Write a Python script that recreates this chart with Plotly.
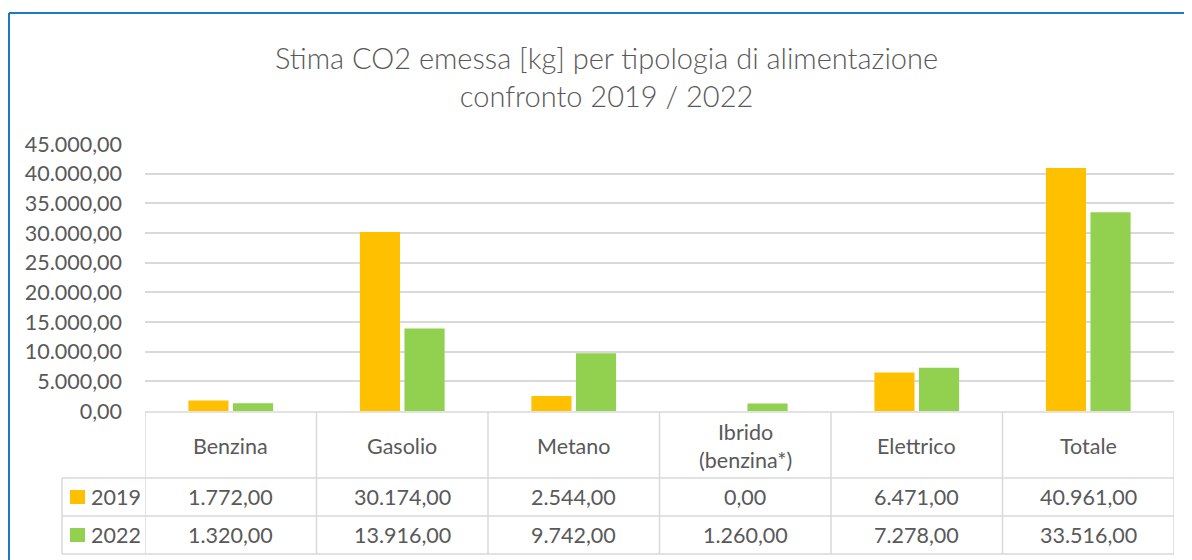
import plotly.graph_objects as go

categories = ["Benzina", "Gasolio", "Metano", "Ibrido<br>(benzina*)", "Elettrico", "Totale"]
series_names = ["2019", "2022"]
values_2019 = [1772.00, 30174.00, 2544.00, 0.00, 6471.00, 40961.00]
values_2022 = [1320.00, 13916.00, 9742.00, 1260.00, 7278.00, 33516.00]
colors = ["#FFC000", "#92D050"]
y_ticks = [0, 5000, 10000, 15000, 20000, 25000, 30000, 35000, 40000, 45000]

OFF = 8  # default page body margin
W, H = 1192 - OFF, 560 - OFF
L, R = 145 - OFF, 1174 - OFF
TOP, BOT = 144 - OFF, 411 - OFF
FONT = "Lato"
TXT = "#595959"
GRID = "#D9D9D9"
FS = 21.5

def it_fmt(v):
    s = f"{v:,.2f}"
    return s.replace(",", "X").replace(".", ",").replace("X", ".")

def py(p):  # screen pixel y -> paper y
    p = p - OFF
    return (BOT - p) / (BOT - TOP)

def px(p):  # screen pixel x -> paper x
    p = p - OFF
    return (p - L) / (R - L)

fig = go.Figure()
for name, vals, col in zip(series_names, [values_2019, values_2022], colors):
    fig.add_trace(go.Bar(x=categories, y=vals, name=name, marker_color=col,
                         marker_line_width=0, showlegend=False))

shapes = []
line = dict(color=GRID, width=1.5)
n = len(categories)
shapes.append(dict(type="line", xref="x", yref="paper", x0=-0.5, x1=n - 0.5,
                   y0=py(412), y1=py(412), line=line))
for yy in [478, 516, 554]:
    shapes.append(dict(type="line", xref="paper", yref="paper", x0=px(62), x1=1,
                       y0=py(yy), y1=py(yy), line=line))
shapes.append(dict(type="line", xref="paper", yref="paper", x0=px(62), x1=px(62),
                   y0=py(478), y1=py(554), line=line))
for i in range(n + 1):
    shapes.append(dict(type="line", xref="x", yref="paper", x0=i - 0.5, x1=i - 0.5,
                       y0=py(412), y1=py(554), line=line))
for k, col in enumerate(colors):
    yc = 497 + 38 * k
    shapes.append(dict(type="rect", xref="paper", yref="paper", x0=px(70), x1=px(85),
                       y0=py(yc - 7), y1=py(yc + 7), fillcolor=col, line_width=0))
# outer chart-area border (left and top edges visible)
border = dict(color="#1F77C8", width=2)
shapes.append(dict(type="line", xref="paper", yref="paper", x0=px(9), x1=px(1193),
                   y0=py(13), y1=py(13), line=border))
shapes.append(dict(type="line", xref="paper", yref="paper", x0=px(9), x1=px(9),
                   y0=py(13), y1=py(561), line=border))

annotations = []
for i, c in enumerate(categories):
    annotations.append(dict(x=c, xref="x", yref="paper", y=py(446), text=c,
                            showarrow=False, font=dict(family=FONT, size=FS, color=TXT),
                            xanchor="center", yanchor="middle"))
    for k, vals in enumerate([values_2019, values_2022]):
        annotations.append(dict(x=c, xref="x", yref="paper", y=py(497 + 38 * k),
                                text=it_fmt(vals[i]), showarrow=False,
                                font=dict(family=FONT, size=FS, color=TXT),
                                xanchor="center", yanchor="middle"))
for k, name in enumerate(series_names):
    annotations.append(dict(x=px(89), xref="paper", yref="paper", y=py(497 + 38 * k),
                            text=name, showarrow=False,
                            font=dict(family=FONT, size=FS, color=TXT),
                            xanchor="left", yanchor="middle"))
annotations.append(dict(x=px(606), xref="paper", yref="paper", y=py(76),
                        text="Stima CO2 emessa [kg] per tipologia di alimentazione<br>confronto 2019 / 2022",
                        showarrow=False,
                        font=dict(family=FONT, size=29, color=TXT, weight=300),
                        xanchor="center", yanchor="middle", align="center"))

fig.update_layout(
    width=W, height=H,
    margin=dict(l=L, r=W - R, t=TOP, b=H - BOT, autoexpand=False),
    paper_bgcolor="white", plot_bgcolor="white",
    separators=",.",
    barmode="group", bargap=0.48, bargroupgap=0.1,
    shapes=shapes, annotations=annotations,
    font=dict(family=FONT, color=TXT),
)
fig.update_xaxes(showticklabels=False, showgrid=False, zeroline=False, showline=False,
                 range=[-0.5, n - 0.5])
fig.update_yaxes(range=[0, 45000], tickvals=y_ticks, tickformat=",.2f",
                 showgrid=True, gridcolor=GRID, gridwidth=1.5, zeroline=False,
                 showline=False, ticklabelstandoff=22,
                 tickfont=dict(family=FONT, size=FS, color=TXT))

fig.write_html("out.html")
